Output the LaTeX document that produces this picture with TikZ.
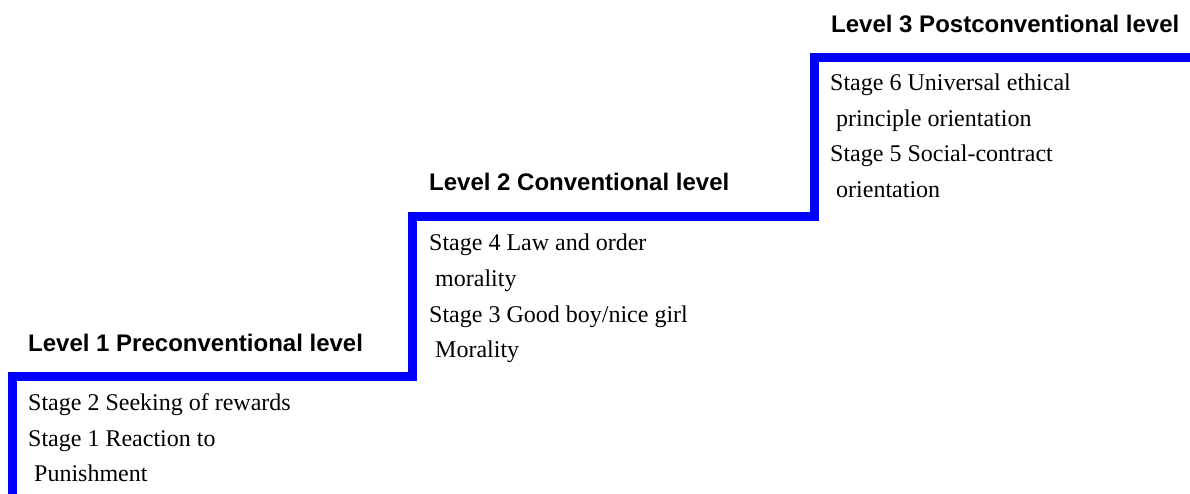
\documentclass[tikz,border=0pt]{standalone}
\usepackage{fontspec}
\setmainfont{Liberation Serif}
\newfontfamily\lvlfont{Liberation Sans}
\begin{document}
\begin{tikzpicture}[x=1pt,y=-1pt,
  lvl/.style={font=\lvlfont\bfseries\fontsize{24}{28}\selectfont, anchor=base west, inner sep=0pt},
  stg/.style={font=\fontsize{24}{30}\selectfont, anchor=base west, inner sep=0pt},
  stair/.style={line width=9pt, draw={rgb,255:red,0;green,0;blue,255}, line join=miter}]
\useasboundingbox (0,0) rectangle (1190,494);
\fill[white] (0,0) rectangle (1190,494);
% staircase
\coordinate (s0) at (12.5,505);
\coordinate (s1) at (12.5,376.5);
\coordinate (s2) at (412.5,376.5);
\coordinate (s3) at (412.5,216.5);
\coordinate (s4) at (814.5,216.5);
\coordinate (s5) at (814.5,57.5);
\coordinate (s6) at (1200,57.5);
\draw[stair] (s0) -- (s1) -- (s2) -- (s3) -- (s4) -- (s5) -- (s6);
% level 1
\node[lvl] (l1) at (28,351) {Level 1 Preconventional level};
\node[stg] (a1) at (28,410.7) {Stage 2 Seeking of rewards};
\node[stg] (a2) at (28,446.2) {Stage 1 Reaction to};
\node[stg] (a3) at (28,481.7) {\ Punishment};
% level 2
\node[lvl] (l2) at (429,191) {Level 2 Conventional level};
\node[stg] (b1) at (429,251) {Stage 4 Law and order};
\node[stg] (b2) at (429,286.5) {\ morality};
\node[stg] (b3) at (429,322) {Stage 3 Good boy/nice girl};
\node[stg] (b4) at (429,357.5) {\ Morality};
% level 3
\node[lvl] (l3) at (831,33) {Level 3 Postconventional level};
\node[stg] (c1) at (830,90.7) {Stage 6 Universal ethical};
\node[stg] (c2) at (830,126.2) {\ principle orientation};
\node[stg] (c3) at (830,161.7) {Stage 5 Social-contract};
\node[stg] (c4) at (830,197.2) {\ orientation};
\end{tikzpicture}
\end{document}
